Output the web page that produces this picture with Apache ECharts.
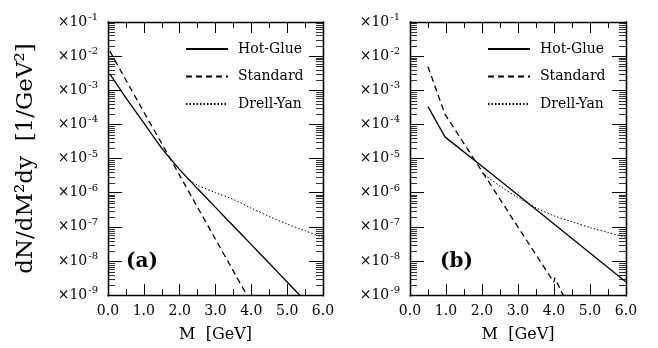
<!DOCTYPE html>
<html>
<head>
<meta charset="utf-8">
<script src="https://cdn.jsdelivr.net/npm/echarts@6/dist/echarts.min.js"></script>
<style>
  html, body { margin: 0; background: #fff; }
  #chart { width: 658px; height: 348px; }
</style>
</head>
<body>
<div id="chart"></div>
<script>
// panel (a)
const massHotA = [0.05, 0.5, 1.0, 1.5, 2.0, 2.5, 3.0, 3.5, 4.0, 4.5, 5.0, 5.5];
const hotGlueA = [3.0e-3, 6.0e-4, 1.1e-4, 2.0e-5, 4.7e-6, 1.3e-6, 3.7e-7, 1.05e-7, 3.0e-8, 8.5e-9, 2.4e-9, 6.8e-10];
const massStdA = [0.05, 0.5, 1.0, 1.5, 2.0, 2.5, 3.0, 3.5, 4.0];
const standardA = [1.4e-2, 2.0e-3, 2.3e-4, 2.75e-5, 3.2e-6, 3.7e-7, 4.3e-8, 5.0e-9, 5.8e-10];
const massDyA = [2.2, 2.5, 3.0, 3.5, 4.0, 4.5, 5.0, 5.5, 6.0];
const drellYanA = [2.7e-6, 1.66e-6, 1.0e-6, 6.3e-7, 3.5e-7, 2.0e-7, 1.2e-7, 7.6e-8, 4.9e-8];

// panel (b)
const massHotB = [0.5, 0.97, 2.0, 3.0, 4.0, 5.0, 6.0];
const hotGlueB = [3.3e-4, 4.3e-5, 5.9e-6, 8.5e-7, 1.2e-7, 1.7e-8, 2.4e-9];
const massStdB = [0.5, 0.97, 2.0, 3.0, 3.9, 4.0, 4.02, 4.3];
const standardB = [4.9e-3, 2.0e-4, 4.2e-6, 9.8e-8, 3.4e-9, 2.4e-9, 3.2e-9, 7.9e-10];
const massDyB = [2.0, 2.5, 3.0, 3.5, 4.0, 4.5, 5.0, 5.5, 6.0];
const drellYanB = [3.8e-6, 1.55e-6, 7.2e-7, 3.6e-7, 2.1e-7, 1.4e-7, 9.5e-8, 6.8e-8, 4.9e-8];

const legendNames = ['Hot-Glue', 'Standard', 'Drell-Yan'];
const panelTags = ['(a)', '(b)'];
// 2..9 x 10^n, where the log axis gets its small ticks
const minorMantissas = [2, 3, 4, 5, 6, 7, 8, 9];
const decades = [-9, -8, -7, -6, -5, -4, -3, -2];

const SERIF = 'DejaVu Serif';
const zip = (xs, ys) => xs.map((x, i) => [x, ys[i]]);
const minorTickValues = [];
decades.forEach((d) => minorMantissas.forEach((m) => minorTickValues.push(+(m + 'e' + d))));

const chart = echarts.init(document.getElementById('chart'), null, { renderer: 'canvas' });

const rectA = { left: 108, top: 22, width: 215, height: 274 };
const rectB = { left: 410, top: 22, width: 216, height: 274 };
// grids 2..5 sit on top of 0 and 1 and only carry the small log ticks, one side each
const grids = [rectA, rectB, { ...rectA }, { ...rectA }, { ...rectB }, { ...rectB }];

// x axes: bottom (labelled) + top (ticks only) per grid
function xAxisFor(gridIndex, position) {
  const labelled = position === 'bottom';
  return {
    type: 'value', gridIndex, position, min: 0, max: 6, interval: 1,
    axisLine: { lineStyle: { color: '#000', width: 1.3 } },
    axisTick: { inside: true, length: 11, lineStyle: { color: '#000', width: 1 } },
    minorTick: { show: true, splitNumber: 2, length: 6, lineStyle: { color: '#000', width: 1 } },
    splitLine: { show: false },
    axisLabel: {
      show: labelled, margin: 9, color: '#000', fontFamily: SERIF, fontSize: 14,
      formatter: (v) => v.toFixed(1),
    },
    name: labelled ? 'M  [GeV]' : '',
    nameLocation: 'middle', nameGap: 32,
    nameTextStyle: { color: '#000', fontFamily: SERIF, fontSize: 16 },
  };
}

function hiddenXAxis(gridIndex) {
  return {
    type: 'value', gridIndex, min: 0, max: 6,
    axisLine: { show: false }, axisTick: { show: false }, axisLabel: { show: false }, splitLine: { show: false },
  };
}

function yAxisFor(gridIndex, position, withName) {
  const labelled = position === 'left';
  return {
    type: 'log', logBase: 10, gridIndex, position, min: 1e-9, max: 1e-1, splitNumber: 8,
    axisLine: { onZero: false, lineStyle: { color: '#000', width: 1.3 } },
    axisTick: { inside: true, length: 14, lineStyle: { color: '#000', width: 1 } },
    minorTick: { show: false },
    splitLine: { show: false },
    axisLabel: {
      show: labelled, margin: 10, color: '#000',
      formatter: (v) => '{b|×10}{s|' + Math.round(Math.log10(v)) + '}',
      rich: {
        b: { fontFamily: SERIF, fontSize: 14, color: '#000' },
        s: { fontFamily: SERIF, fontSize: 10, color: '#000', padding: [0, 0, 9, 1] },
      },
    },
    name: withName ? 'dN/dM²dy  [1/GeV²]' : '',
    nameLocation: 'middle', nameRotate: 90, nameGap: 70,
    nameTextStyle: { color: '#000', fontFamily: SERIF, fontSize: 23 },
  };
}

// log axis carrying only the 2..9 ticks of each decade
function yMinorAxisFor(gridIndex, position) {
  return {
    type: 'log', logBase: 10, gridIndex, position, min: 1e-9, max: 1e-1,
    axisLine: { show: true, onZero: false, lineStyle: { color: '#000', width: 1.3 } },
    axisTick: { show: true, inside: true, length: 7, customValues: minorTickValues, lineStyle: { color: '#000', width: 0.8 } },
    axisLabel: { show: false },
    splitLine: { show: false },
  };
}

function lineSeries(name, xIdx, yIdx, xs, ys, type, smooth) {
  return {
    name, type: 'line', xAxisIndex: xIdx, yAxisIndex: yIdx,
    data: zip(xs, ys), showSymbol: false, symbol: 'none', smooth,
    itemStyle: { color: '#000' },
    lineStyle: {
      color: '#000',
      width: type === 'dotted' ? 1 : 1.3,
      type: type === 'dashed' ? [6, 4] : type === 'dotted' ? [1.5, 2] : 'solid',
    },
    clip: true, animation: false,
  };
}

function legendFor(left) {
  return {
    data: legendNames, orient: 'vertical', left, top: 37,
    itemWidth: 42, itemHeight: 12, itemGap: 13.5, selectedMode: false,
    itemStyle: { opacity: 0 },
    textStyle: { color: '#000', fontFamily: SERIF, fontSize: 14, padding: [0, 0, 0, 5] },
  };
}

const option = {
  animation: false,
  backgroundColor: '#fff',
  grid: grids,
  xAxis: [
    xAxisFor(0, 'bottom'), xAxisFor(0, 'top'), xAxisFor(1, 'bottom'), xAxisFor(1, 'top'),
    hiddenXAxis(2), hiddenXAxis(3), hiddenXAxis(4), hiddenXAxis(5),
  ],
  yAxis: [
    yAxisFor(0, 'left', true), yAxisFor(0, 'right', false),
    yAxisFor(1, 'left', false), yAxisFor(1, 'right', false),
    yMinorAxisFor(2, 'left'), yMinorAxisFor(3, 'right'),
    yMinorAxisFor(4, 'left'), yMinorAxisFor(5, 'right'),
  ],
  legend: [legendFor(180), legendFor(482)],
  graphic: panelTags.map((t, i) => ({
    type: 'text', left: [126, 440][i], top: 252,
    style: { text: t, font: 'bold 20px "' + SERIF + '"', fill: '#000' },
  })),
  series: [
    lineSeries('Hot-Glue', 0, 0, massHotA, hotGlueA, 'solid', 0.2),
    lineSeries('Standard', 0, 0, massStdA, standardA, 'dashed', 0.2),
    lineSeries('Drell-Yan', 0, 0, massDyA, drellYanA, 'dotted', 0.3),
    lineSeries('Hot-Glue', 2, 2, massHotB, hotGlueB, 'solid', false),
    lineSeries('Standard', 2, 2, massStdB, standardB, 'dashed', false),
    lineSeries('Drell-Yan', 2, 2, massDyB, drellYanB, 'dotted', 0.3),
  ],
};

chart.setOption(option);
</script>
</body>
</html>
